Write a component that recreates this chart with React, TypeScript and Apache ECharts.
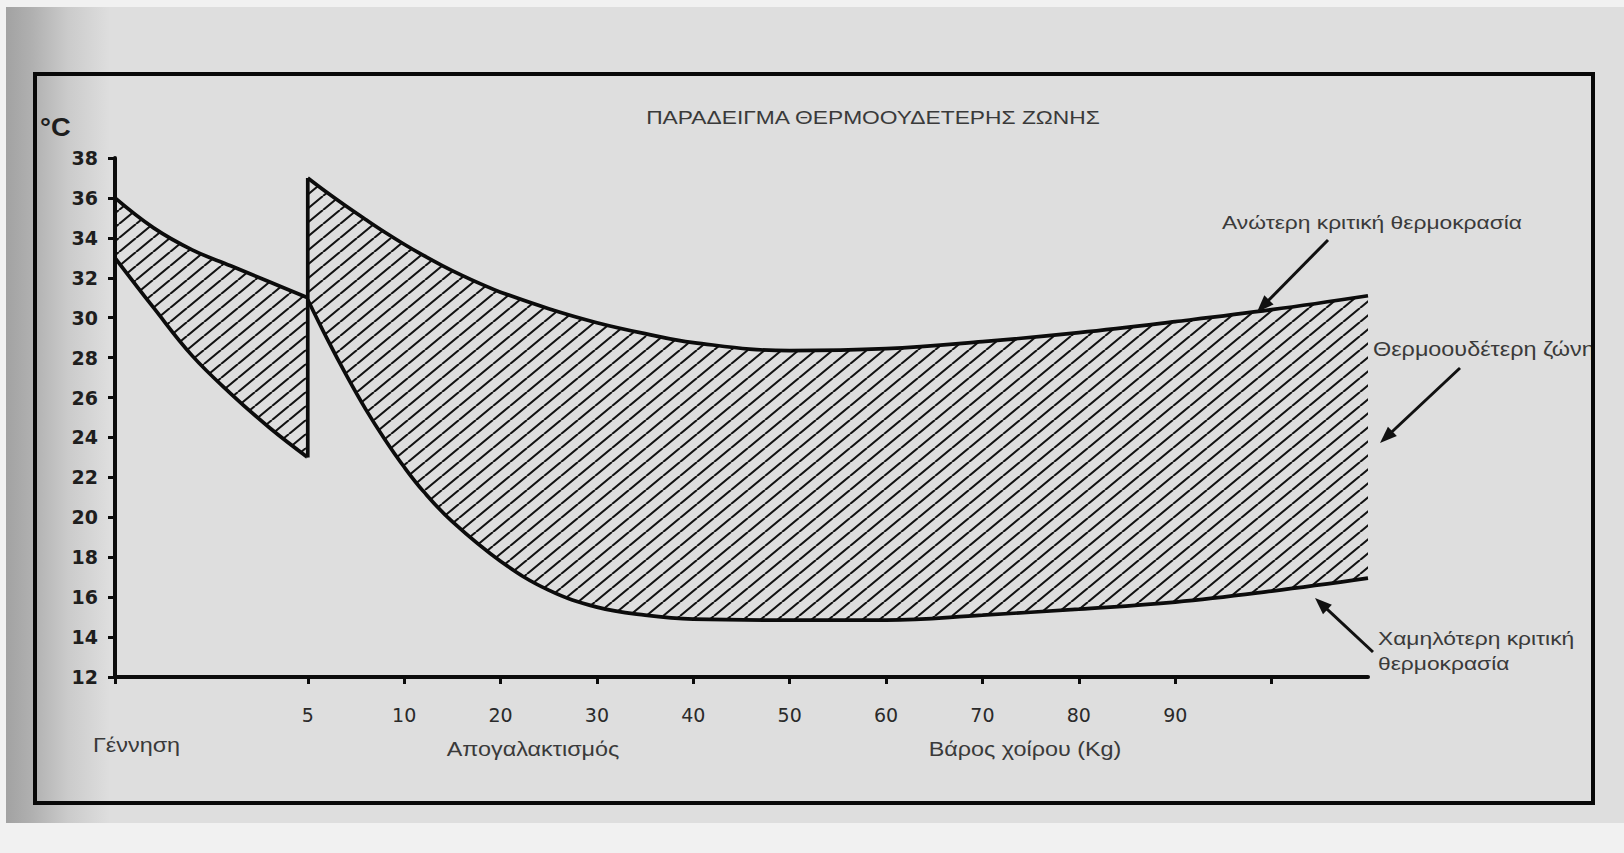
import React, { useEffect, useRef } from "react";
import * as echarts from "echarts";

// ---------- data ----------
const seg1Weights = [0, 1, 2, 3, 4, 5];
const seg1Upper = [36, 34.5, 33.4, 32.6, 31.8, 31.0];
const seg1Lower = [33, 30.5, 28.1, 26.2, 24.5, 23.0];

const seg2UpperWeights = [5, 6, 7, 8, 9, 10, 12, 14, 16, 18, 20, 25, 30, 35, 40, 50, 60, 70, 80, 90, 100, 110];
const seg2Upper = [37.0, 36.27, 35.58, 34.92, 34.28, 33.68, 33.12, 32.6, 32.12, 31.68, 31.28, 30.45, 29.75, 29.2, 28.75, 28.35, 28.45, 28.8, 29.25, 29.8, 30.4, 31.1];
const seg2LowerWeights = [5, 6, 7, 8, 9, 10, 12, 15, 20, 25, 30, 35, 40, 50, 60, 70, 80, 90, 100, 110];
const seg2Lower = [30.9, 28.95, 27.12, 25.42, 23.9, 22.52, 21.3, 19.78, 17.8, 16.35, 15.5, 15.1, 14.9, 14.85, 14.85, 15.1, 15.4, 15.75, 16.3, 16.95];

const xLabelWeights = [5, 10, 20, 30, 40, 50, 60, 70, 80, 90];
const xTickWeights = [0, 5, 10, 20, 30, 40, 50, 60, 70, 80, 90, 100];
const xMaxWeight = 110;
const yMin = 12;
const yMax = 38;
const yStep = 2;

const titleText = "ΠΑΡΑΔΕΙΓΜΑ ΘΕΡΜΟΟΥΔΕΤΕΡΗΣ ΖΩΝΗΣ";
const yUnit = "°C";
const stageLabels = ["Γέννηση", "Απογαλακτισμός", "Βάρος χοίρου (Kg)"];
const upperNote = "Ανώτερη κριτική θερμοκρασία";
const zoneNote = "Θερμοουδέτερη ζώνη";
const lowerNote = ["Χαμηλότερη κριτική", "θερμοκρασία"];

// ---------- axis scale: piecewise weight -> axis position ----------
const toPos = (w: number) => (w <= 5 ? w / 2.5 : w <= 10 ? 2 + (w - 5) / 5 : 3 + (w - 10) / 10);

const BG = "#dedede";
const INK = "#0c0c0c";
const TXT = "#3a3a3a";
const FONT = "'Liberation Sans', Arial, sans-serif";

function makeHatch() {
  const w = 17;
  const h = 14;
  const c = document.createElement("canvas");
  c.width = w;
  c.height = h;
  const ctx = c.getContext("2d")!;
  ctx.strokeStyle = "#121212";
  ctx.lineWidth = 2.1;
  ctx.beginPath();
  for (const dx of [-w, 0, w]) {
    ctx.moveTo(dx, h);
    ctx.lineTo(dx + w, 0);
  }
  ctx.stroke();
  return { image: c, repeat: "repeat", imageWidth: w, imageHeight: h } as any;
}

function arrow(sx: number, sy: number, tx: number, ty: number): any[] {
  const dx = tx - sx;
  const dy = ty - sy;
  const len = Math.hypot(dx, dy);
  const ux = dx / len;
  const uy = dy / len;
  const L = 17;
  const W = 6.5;
  const bx = tx - ux * L;
  const by = ty - uy * L;
  const nx = -uy;
  const ny = ux;
  return [
    { type: "line", z: 30, shape: { x1: sx, y1: sy, x2: bx + ux * 2, y2: by + uy * 2 }, style: { stroke: "#111", lineWidth: 3 } },
    {
      type: "polygon",
      z: 30,
      shape: { points: [[tx, ty], [bx + nx * W, by + ny * W], [bx - nx * W, by - ny * W]] },
      style: { fill: "#111" },
    },
  ];
}

function txt(text: string, x: number, y: number, align: string, size: number, opts: any = {}) {
  return {
    type: "text",
    z: 30,
    x,
    y,
    scaleX: opts.scaleX ?? 1.2,
    style: {
      text,
      fill: opts.color ?? TXT,
      font: `${opts.weight ?? "normal"} ${size}px ${FONT}`,
      textAlign: align,
      textVerticalAlign: "middle",
    },
  };
}

function buildOption() {
  const hatch = makeHatch();
  const pts = (ws: number[], vs: number[]) => ws.map((w, i) => [toPos(w), vs[i]]);
  const curve = (data: number[][], fill: any, z: number) => ({
    type: "line",
    data,
    z,
    smooth: 0.4,
    symbol: "none",
    silent: true,
    lineStyle: { color: INK, width: 3.7 },
    areaStyle: { color: fill, opacity: 1, origin: "start" },
  });
  const edgeX = toPos(seg2UpperWeights[0]);

  const graphic: any[] = [
    { type: "rect", z: -100, shape: { x: 6, y: 7, width: 1618, height: 816 }, style: { fill: BG } },
    {
      type: "rect",
      z: -99,
      shape: { x: 6, y: 7, width: 104, height: 816 },
      style: {
        fill: {
          type: "linear",
          x: 0,
          y: 0,
          x2: 1,
          y2: 0,
          colorStops: [
            { offset: 0, color: "#a2a2a2" },
            { offset: 0.25, color: "#b0b0b0" },
            { offset: 0.6, color: "#cbcbcb" },
            { offset: 1, color: BG },
          ],
        },
      },
    },
    txt(titleText, 873, 117, "center", 19),
    txt(yUnit, 40, 127, "left", 26, { weight: "bold", color: "#1e1e1e", scaleX: 1.05 }),
    txt(stageLabels[0], 93, 746, "left", 19.5),
    txt(stageLabels[1], 533, 750, "center", 19.5),
    txt(stageLabels[2], 1025, 750, "center", 19.5),
    txt(upperNote, 1222, 222, "left", 19),
    txt(zoneNote, 1373, 350, "left", 19.5),
    txt(lowerNote[0], 1378, 638, "left", 19),
    txt(lowerNote[1], 1378, 663, "left", 19),
    ...arrow(1328, 240, 1257, 312),
    ...arrow(1460, 368, 1380, 443),
    ...arrow(1373, 652, 1315, 598),
    { type: "rect", z: 40, shape: { x: 1594, y: 7, width: 30, height: 816 }, style: { fill: BG } },
    {
      type: "rect",
      z: 50,
      shape: { x: 35, y: 74, width: 1558, height: 729 },
      style: { fill: "none", stroke: "#080808", lineWidth: 4 },
    },
  ];

  return {
    animation: false,
    backgroundColor: "#f1f1f1",
    grid: { left: 115, top: 158, right: 256, bottom: 176, containLabel: false },
    xAxis: {
      type: "value",
      min: 0,
      max: toPos(xMaxWeight),
      z: 10,
      axisLine: { show: true, lineStyle: { color: INK, width: 4 } },
      axisTick: {
        show: true,
        customValues: xTickWeights.map(toPos),
        length: 7,
        lineStyle: { color: INK, width: 3 },
      },
      axisLabel: {
        customValues: xLabelWeights.map(toPos),
        formatter: (v: number) => {
          const i = xLabelWeights.findIndex((w) => Math.abs(toPos(w) - v) < 1e-6);
          return i >= 0 ? String(xLabelWeights[i]) : "";
        },
        margin: 28,
        fontSize: 19,
        fontFamily: "'DejaVu Sans', sans-serif",
        color: "#2a2a2a",
      },
      splitLine: { show: false },
    },
    yAxis: {
      type: "value",
      min: yMin,
      max: yMax,
      interval: yStep,
      z: 10,
      axisLine: { show: true, lineStyle: { color: INK, width: 4 } },
      axisTick: { show: true, length: 7, lineStyle: { color: INK, width: 3 } },
      axisLabel: {
        margin: 17,
        fontSize: 19,
        fontWeight: "bold",
        fontFamily: "'DejaVu Sans', sans-serif",
        color: "#1e1e1e",
      },
      splitLine: { show: false },
    },
    series: [
      curve(pts(seg1Weights, seg1Upper), hatch, 2),
      curve(pts(seg2UpperWeights, seg2Upper), hatch, 2),
      curve(pts(seg1Weights, seg1Lower), BG, 3),
      curve(pts(seg2LowerWeights, seg2Lower), BG, 3),
      {
        // background-coloured seam cover under the 5 kg edge
        type: "line",
        z: 3,
        symbol: "none",
        silent: true,
        data: [
          [edgeX, yMin],
          [edgeX, seg1Lower[seg1Lower.length - 1]],
        ],
        lineStyle: { color: BG, width: 3 },
      },
      {
        type: "line",
        z: 4,
        symbol: "none",
        silent: true,
        data: [
          [edgeX, seg1Lower[seg1Lower.length - 1]],
          [edgeX, seg2Upper[0]],
        ],
        lineStyle: { color: INK, width: 3.7 },
      },
    ],
    graphic,
  };
}

export default function App() {
  const ref = useRef<HTMLDivElement>(null);
  useEffect(() => {
    const chart = echarts.init(ref.current!, null, { renderer: "svg" });
    chart.setOption(buildOption() as any);
    return () => chart.dispose();
  }, []);
  return (
    <div
      ref={ref}
      style={{ position: "absolute", left: 0, top: 0, width: 1624, height: 853 }}
    />
  );
}
